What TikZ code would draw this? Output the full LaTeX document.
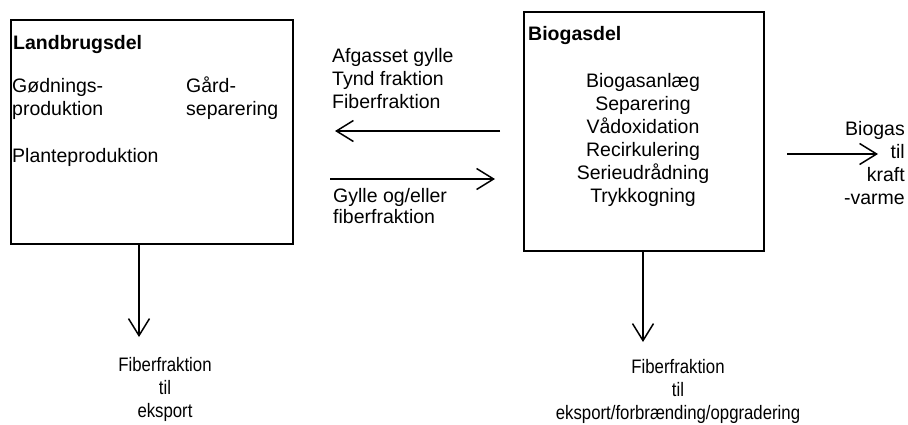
\documentclass[tikz,border=0pt]{standalone}
\usepackage{fontspec}
\setmainfont{Liberation Sans}
\newfontfamily\narrowfont[FakeStretch=0.86]{Liberation Sans}
\usetikzlibrary{arrows.meta}
\tikzset{
	part/.style={draw, line width=1.5pt, inner sep=0pt, anchor=north west},
	flow/.style={line width=1.5pt, -{Straight Barb[length=17pt, width=21pt, line width=1.5pt]}},
	lbl/.style={inner sep=0pt, anchor=base west, align=left},
	clbl/.style={inner sep=0pt, anchor=base, align=center},
	rlbl/.style={inner sep=0pt, anchor=base east, align=right},
	outlbl/.style={clbl, font=\narrowfont\fontsize{19.5}{23}\selectfont},
}

\begin{document}
\begin{tikzpicture}[x=1pt, y=-1pt, font=\fontsize{19.5}{23}\selectfont]
		%%%%% START %%%%%
		\useasboundingbox (0, 0) rectangle (908, 424);
		
		% Landbrugsdel (base = last line)
		\node[part, minimum width=282pt, minimum height=224pt] (land) at (10, 19) {};
		\node[lbl, font=\bfseries\fontsize{19.5}{23}\selectfont] (landtitle) at (13, 49) {Landbrugsdel};
		\node[lbl] (goedning) at (12, 115) {Gødnings-\\produktion};
		\node[lbl] (gaard) at (186, 115) {Gård-\\separering};
		\node[lbl] (plante) at (12, 162) {Planteproduktion};
		
		% Biogasdel
		\node[part, minimum width=240pt, minimum height=239pt] (bio) at (523, 11) {};
		\node[lbl, font=\bfseries\fontsize{19.5}{23}\selectfont] (biotitle) at (528, 40) {Biogasdel};
		\node[clbl] (anlaeg) at (643, 202) {Biogasanlæg\\Separering\\Vådoxidation\\Recirkulering\\Serieudrådning\\Trykkogning};
		
		% mellem delene
		\node[lbl] (retur) at (332, 108) {Afgasset gylle\\Tynd fraktion\\Fiberfraktion};
		\coordinate (returA) at (500, 131);
		\coordinate (returB) at (335, 131);
		\draw[flow] (returA) -- (returB);
		
		\coordinate (tilA) at (330, 179);
		\coordinate (tilB) at (495, 179);
		\draw[flow] (tilA) -- (tilB);
		\node[lbl, font=\fontsize{19.5}{21}\selectfont] (gylle) at (333, 223) {Gylle og/eller\\fiberfraktion};
		
		% biogas ud
		\coordinate (gasA) at (787, 154);
		\coordinate (gasB) at (878, 154);
		\draw[flow] (gasA) -- (gasB);
		\node[rlbl] (gas) at (905, 204) {Biogas\\til\\kraft\\-varme};
		
		% fiber ud
		\coordinate (landud) at (139, 243);
		\coordinate (landend) at (139, 337);
		\draw[flow] (landud) -- (landend);
		\node[outlbl] (landfiber) at (165, 417) {Fiberfraktion\\til\\eksport};
		
		\coordinate (bioud) at (643, 250);
		\coordinate (bioend) at (643, 342);
		\draw[flow] (bioud) -- (bioend);
		\node[outlbl] (biofiber) at (678, 419) {Fiberfraktion\\til\\eksport/forbrænding/opgradering};
		
		%%%%% END %%%%%
	\end{tikzpicture}
\end{document}
